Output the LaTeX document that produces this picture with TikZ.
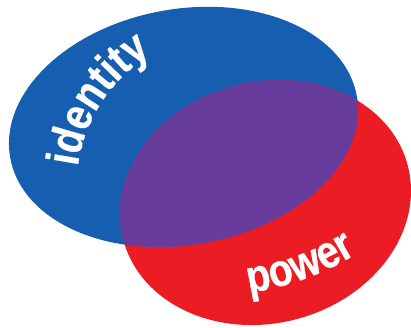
\documentclass[tikz,border=0pt]{standalone}
\usepackage{fontspec}
\setmainfont{Liberation Sans}
\newfontfamily\vennfam{Liberation Sans}[FakeStretch=0.85,BoldFeatures={FakeBold=0.6}]
\usepackage{xcolor}
\usetikzlibrary{decorations.text}

\definecolor{idblue}{RGB}{22,94,176}
\definecolor{powred}{RGB}{236,28,36}
\definecolor{mixpurple}{RGB}{104,60,156}
\newcommand{\vennfont}{\vennfam\fontsize{46}{46}\selectfont\bfseries\color{white}}

\begin{document}
\begin{tikzpicture}[
                x=1pt, y=1pt,
                setblue/.style={fill=idblue, rotate around={10:(bc)}},
                setred/.style={fill=powred, rotate around={14.5:(rc)}},
                vennlabel/.style={decorate, decoration={text along path, text align=center, text={|\vennfont|#1}}}
            ]
            \useasboundingbox (0,0) rectangle (411,328);
            \coordinate (bc) at (183.5,201);
            \coordinate (rc) at (265.5,125.5);
            \coordinate (ic) at (232,140.8);
            \coordinate (pc) at (207,318);
            % the two sets
            \fill[setblue] (bc) ellipse[x radius=176pt, y radius=118pt];
            \fill[setred] (rc) ellipse[x radius=147pt, y radius=120.7pt];
            % overlap
            \begin{scope}
                \clip[rotate around={14.5:(rc)}] (rc) ellipse[x radius=147pt, y radius=120.7pt];
                \fill[fill=mixpurple, rotate around={10:(bc)}] (bc) ellipse[x radius=176pt, y radius=118pt];
            \end{scope}
            % labels
            \path[vennlabel=identity] (ic) ++(191.8:155.6) arc[start angle=191.8, end angle=101.8, radius=155.6pt];
            \path[vennlabel=power] (pc) ++(-96:286) arc[start angle=-96, end angle=-44, radius=286pt];
        \end{tikzpicture}
\end{document}
